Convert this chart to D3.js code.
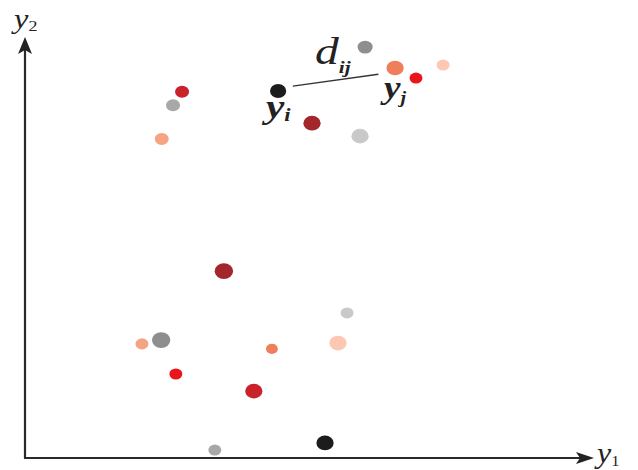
<!DOCTYPE html>
<html>
<head>
<meta charset="utf-8">
<script src="https://cdn.jsdelivr.net/npm/d3@7/dist/d3.min.js"></script>
<style>
  html, body { margin: 0; padding: 0; background: #fff; }
  svg { display: block; }
  text { font-family: "Liberation Serif", "DejaVu Serif", serif; font-style: italic; fill: #222; }
</style>
</head>
<body>
<svg id="chart" width="638" height="470"></svg>
<script>
// Embedded points in the (y1, y2) plane
const pointX = [6.02, 6.55, 6.92, 7.40, 4.48, 5.08, 5.93, 2.78, 2.62, 2.42,
                3.52, 5.70, 2.41, 2.07, 4.37, 5.54, 2.67, 4.05, 3.36, 5.31];
const pointY = [9.83, 9.33, 9.09, 9.40, 8.78, 8.01, 7.70, 8.76, 8.44, 7.63,
                4.47, 3.47, 2.82, 2.73, 2.61, 2.75, 2.01, 1.60, 0.19, 0.36];
const pointGroup = ["grey", "orange", "red", "pink", "black", "darkred", "lightgrey", "crimson", "midgrey", "salmon",
                    "darkred", "lightgrey", "grey", "salmon", "orange", "pink", "red", "crimson", "midgrey", "black"];
const pointSize = [7, 8, 6, 6, 7.5, 8, 8, 6.5, 6.5, 6.5,
                   8.5, 6, 8.5, 6, 5.5, 8, 6, 8, 6, 8];

const groupNames = ["black", "darkred", "crimson", "red", "orange", "salmon", "pink", "grey", "midgrey", "lightgrey"];
const groupColors = ["#1e1e1e", "#a2262c", "#c9202c", "#e8141c", "#ef7f5c", "#f4a383", "#fcc7b3", "#8e8e8e", "#a8a8a8", "#c9c9c9"];

// Highlighted pair i (index 4) and j (index 1)
const pairI = 4, pairJ = 1;

const svg = d3.select("#chart");
const x = d3.scaleLinear().domain([0, 10]).range([25, 590]);
const y = d3.scaleLinear().domain([0, 10]).range([458, 40]);
const color = d3.scaleOrdinal().domain(groupNames).range(groupColors);

svg.append("defs").append("filter").attr("id", "soft")
  .append("feGaussianBlur").attr("stdDeviation", 0.6);

// Axes with arrowheads
const axisG = svg.append("g");
axisG.append("line")
  .attr("x1", x(0)).attr("y1", y(0)).attr("x2", x(0)).attr("y2", y(10) + 10)
  .attr("stroke", "#2a2a2a").attr("stroke-width", 2.2);
axisG.append("line")
  .attr("x1", x(0) - 1).attr("y1", y(0)).attr("x2", x(10) - 10).attr("y2", y(0))
  .attr("stroke", "#2a2a2a").attr("stroke-width", 2.2);
axisG.append("path")
  .attr("d", `M${x(0)},${y(10) - 3} L${x(0) - 7},${y(10) + 14} L${x(0)},${y(10) + 10} L${x(0) + 7},${y(10) + 14} Z`)
  .attr("fill", "#222");
axisG.append("path")
  .attr("d", `M${x(10) + 4},${y(0)} L${x(10) - 14},${y(0) - 6} L${x(10) - 10},${y(0)} L${x(10) - 14},${y(0) + 6} Z`)
  .attr("fill", "#222");

// Italic label with a subscript, stretched slightly wider
function subLabel(px, py, size, main, sub, subSize, subDy, opts = {}) {
  const t = svg.append("text")
    .attr("transform", `translate(${px},${py}) scale(${opts.sx || 1.2},1)`)
    .attr("font-size", size)
    .attr("font-weight", opts.bold ? "bold" : null);
  t.append("tspan").text(main);
  t.append("tspan").attr("font-size", subSize).attr("dy", subDy)
    .attr("font-style", opts.upright ? "normal" : null)
    .attr("font-weight", opts.subBold ? "bold" : null)
    .text(sub);
  return t;
}

// Axis labels
subLabel(14, 28, 27, "y", "2", 15, 3, { upright: true });
subLabel(597, 463, 29, "y", "1", 15, 3, { upright: true, sx: 1.1 });

// Points
svg.append("g").attr("filter", "url(#soft)")
  .selectAll("ellipse")
  .data(d3.range(pointX.length))
  .join("ellipse")
  .attr("cx", i => x(pointX[i]))
  .attr("cy", i => y(pointY[i]))
  .attr("rx", i => pointSize[i] * 1.08)
  .attr("ry", i => pointSize[i] * 0.92)
  .attr("fill", i => color(pointGroup[i]));

// Distance segment between y_i and y_j
const xi = x(pointX[pairI]), yi = y(pointY[pairI]);
const xj = x(pointX[pairJ]), yj = y(pointY[pairJ]);
const ang = Math.atan2(yj - yi, xj - xi);
svg.append("line")
  .attr("x1", xi + Math.cos(ang) * 15).attr("y1", yi + Math.sin(ang) * 15 - 2)
  .attr("x2", xj - Math.cos(ang) * 17).attr("y2", yj - Math.sin(ang) * 17 + 3)
  .attr("stroke", "#333").attr("stroke-width", 1.4);

// Annotations
subLabel(315, 64, 38, "d", "ij", 17, 9, { subBold: true, sx: 1.25 });
subLabel(266, 118, 33, "y", "i", 18, 3, { bold: true, sx: 1.25 });
subLabel(384, 98, 31, "y", "j", 17, 5, { bold: true, sx: 1.2 });
</script>
</body>
</html>
